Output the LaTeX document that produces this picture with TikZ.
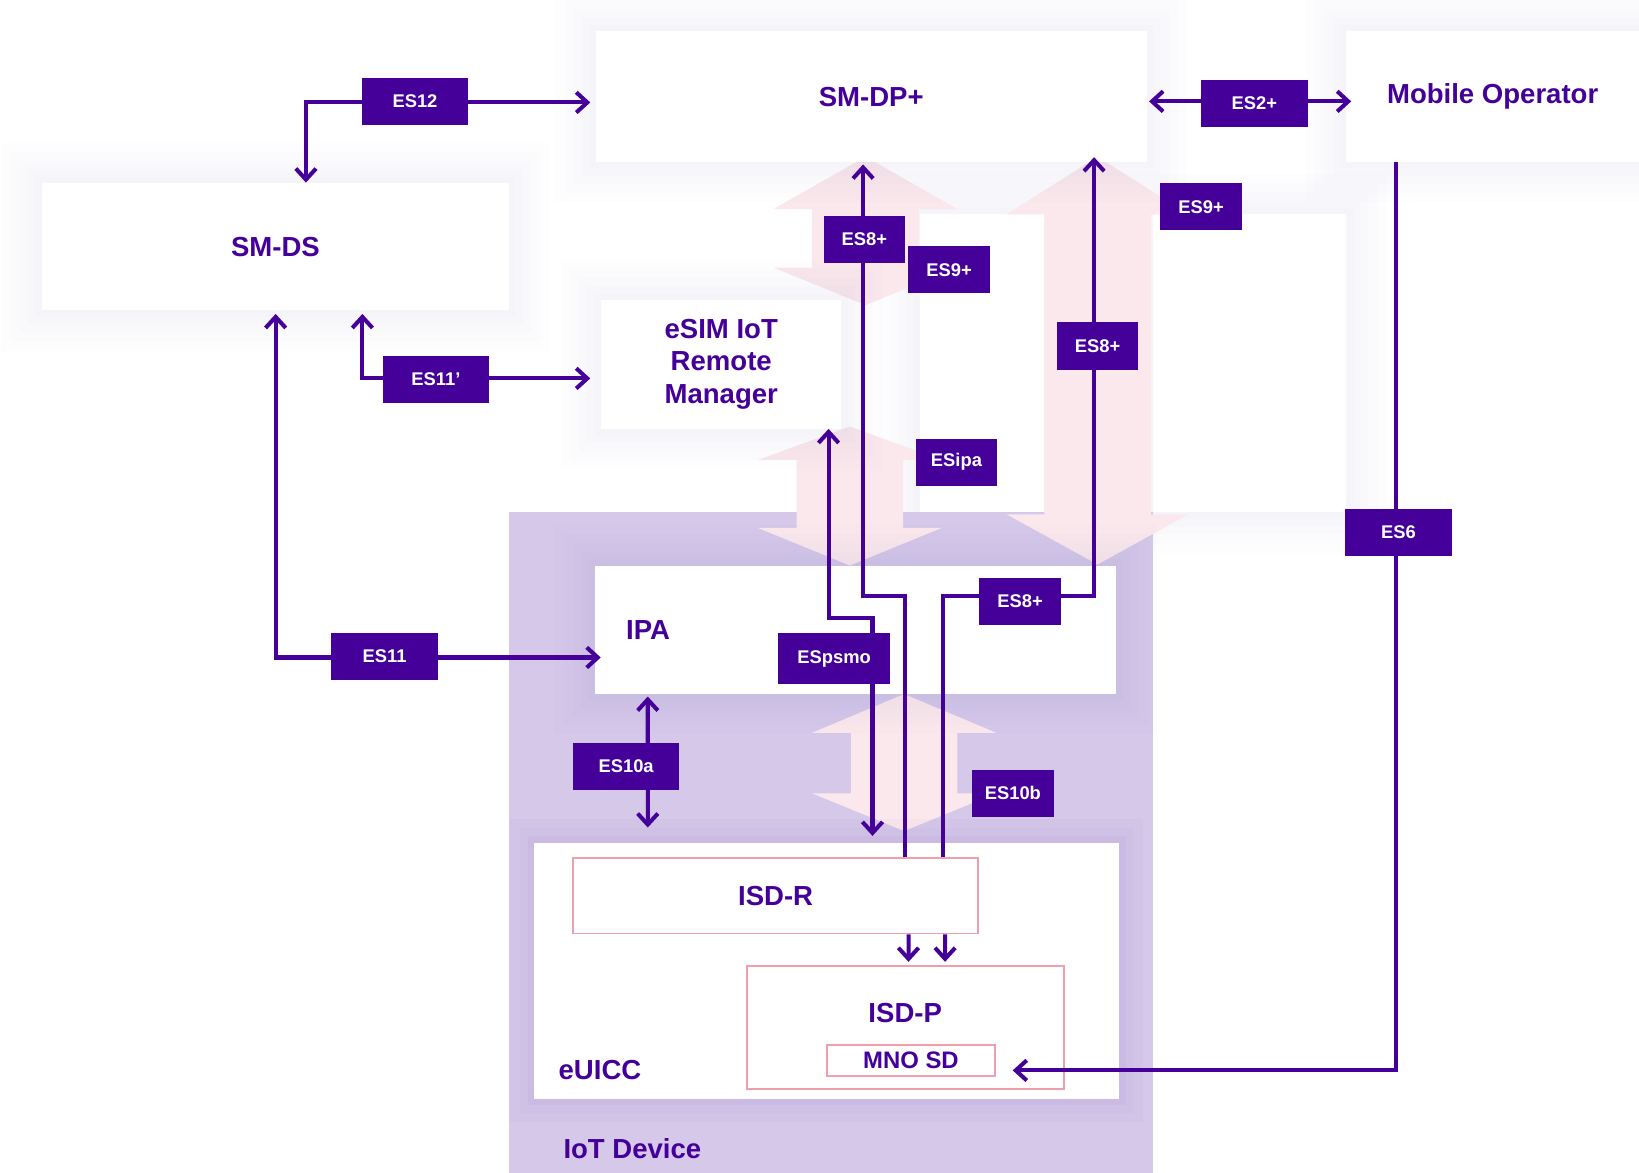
\documentclass[tikz,border=0pt]{standalone}
\usepackage{fontspec}
\setmainfont{Liberation Sans}
\usepackage{tikz}
\usetikzlibrary{arrows.meta, calc}
\definecolor{gsmaink}{RGB}{68,0,153}
\definecolor{iotlilac}{RGB}{213,200,233}
\definecolor{arrowpink}{RGB}{250,232,236}
\definecolor{sdpink}{RGB}{240,160,172}
\definecolor{halo}{RGB}{70,60,140}
\tikzset{
  softhalo/.style={
    preaction={draw=halo, draw opacity=0.008, line width=44pt},
    preaction={draw=halo, draw opacity=0.008, line width=34pt},
    preaction={draw=halo, draw opacity=0.008, line width=24pt},
    preaction={draw=halo, draw opacity=0.009, line width=15pt},
    preaction={draw=halo, draw opacity=0.010, line width=7pt}},
  entity/.style={rectangle, fill=white, inner sep=0pt, text=gsmaink, align=center,
    font=\fontsize{15}{17.6}\selectfont\bfseries, softhalo},
  ghost/.style={fill=white, softhalo},
  chipbox/.style={rectangle, fill=white, inner sep=0pt,
    preaction={draw=gsmaink, draw opacity=0.018, line width=26pt},
    preaction={draw=gsmaink, draw opacity=0.02, line width=16pt},
    preaction={draw=gsmaink, draw opacity=0.022, line width=7pt}},
  sdbox/.style={rectangle, fill=white, draw=sdpink, line width=1pt, inner sep=0pt,
    text=gsmaink, font=\fontsize{15}{17.6}\selectfont\bfseries},
  title/.style={text=gsmaink, font=\fontsize{15}{17.6}\selectfont\bfseries, inner sep=0pt},
  iface/.style={rectangle, fill=gsmaink, text=white, inner sep=0pt,
    font=\fontsize{10}{12}\selectfont\bfseries, minimum width=2.04cm, minimum height=0.9cm},
  ifacen/.style={iface, minimum width=1.56cm},
  flow/.style={draw=gsmaink, line width=2.2pt, -{Straight Barb[length=6pt, width=11pt]}},
  flow2/.style={flow, {Straight Barb[length=6pt, width=11pt]}-{Straight Barb[length=6pt, width=11pt]}},
  pinkarrow/.style={fill=arrowpink}
}

\begin{document}
\begin{tikzpicture}[x=0.02cm, y=-0.02cm]
  \useasboundingbox (0,0) rectangle (1568,1122);
  \fill[white] (0,0) rectangle (1568,1122);

  % empty panels behind the interface arrows
  \fill[ghost] (880,205) rectangle (999,490);
  \fill[ghost] (1103,205) rectangle (1288,490);

  % IoT Device area
  \fill[iotlilac] (487,490) rectangle (1103,1130);

  % Big pink interface arrows
  \fill[pinkarrow] (828,150) -- (916,200) -- (879,200) -- (879,256) -- (916,256) -- (828,292)
    -- (740,256) -- (777,256) -- (777,200) -- (740,200) -- cycle;
  \fill[pinkarrow] (813,408) -- (901,440) -- (864,440) -- (864,505) -- (901,505) -- (813,541)
    -- (725,505) -- (762,505) -- (762,440) -- (725,440) -- cycle;
  \fill[pinkarrow] (1050,150) -- (1137,205) -- (1101,205) -- (1101,492) -- (1137,492) -- (1050,540)
    -- (963,492) -- (999,492) -- (999,205) -- (963,205) -- cycle;
  \fill[pinkarrow] (865,664) -- (953,701) -- (916,701) -- (916,759) -- (953,759) -- (865,795)
    -- (777,759) -- (814,759) -- (814,701) -- (777,701) -- cycle;

  % Entities
  \node[entity, minimum width=10.54cm, minimum height=2.5cm] (smdp) at (833.5,92.5) {SM-DP+};
  \node[entity, minimum width=5.6cm, minimum height=2.5cm] (mobop) at (1428,92.5) {Mobile Operator};
  \node[entity, minimum width=8.94cm, minimum height=2.44cm] (smds) at (263.5,236) {SM-DS};
  \node[entity, minimum width=4.6cm, minimum height=2.46cm] (rm) at (690,348.5) {eSIM IoT\\Remote\\Manager};
  \node[entity, minimum width=9.98cm, minimum height=2.46cm, text width=9.98cm, align=left] (ipa) at (818.5,602.5) {\hspace*{0.6cm}IPA};

  % eUICC and security domains
  \node[chipbox, minimum width=11.2cm, minimum height=4.9cm] (euicc) at (791,928.5) {};
  \node[sdbox, minimum width=7.76cm, minimum height=1.44cm] (isdr) at (742,857) {ISD-R};
  \node[sdbox, minimum width=6.06cm, minimum height=2.36cm] (isdp) at (866.5,983) {};
  \node[title] (isdptxt) at (866,969) {ISD-P};
  \node[sdbox, minimum width=3.22cm, minimum height=0.58cm,
    font=\fontsize{13}{15}\selectfont\bfseries] (mnosd) at (871.5,1014.5) {MNO SD};
  \node[title] (euicctxt) at (574,1024) {eUICC};
  \node[title] (iottxt) at (605,1099) {IoT Device};

  % Interfaces
  \draw[flow2] (smds.north west) ++(253,0) |- ($(smdp.west)+(-5,5.5)$);
  \draw[flow2] ($(smdp.east)+(2,4.5)$) -- ($(mobop.west)+(5,4.5)$);
  \draw[flow2] ($(smds.south west)+(224,3)$) |- ($(ipa.west)+(6,26.5)$);
  \draw[flow2] ($(smds.south west)+(307,3)$) |- ($(rm.west)+(-10,13.5)$);
  \draw[flow] ($(isdr.north west)+(319,0)$) |- ($(smdp.south west)+(256,415)$) -- ($(smdp.south west)+(256,2)$);
  \draw[flow] ($(isdr.north west)+(355,0)$) |- ($(smdp.south west)+(477,415)$) -- ($(smdp.south west)+(477,-5)$);
  \draw[flow2] ($(rm.south west)+(218,0)$) -- ++(0,181) -| ($(euicc.north west)+(324,-6)$);
  \draw[flow2] ($(ipa.south west)+(51,2)$) -- ($(euicc.north west)+(109,-14)$);
  \draw[flow] ($(mobop.south west)+(48,0)$) |- ($(mnosd.east)+(16,9.5)$);
  \draw[flow] ($(isdr.south west)+(322,0)$) -- ($(isdp.north west)+(155,-3)$);
  \draw[flow] ($(isdr.south west)+(357,0)$) -- ($(isdp.north west)+(190,-3)$);

  % Interface labels
  \node[iface] (es12) at (397,97) {ES12};
  \node[iface] (es2) at (1200,99) {ES2+};
  \node[ifacen] (es9a) at (1149,198) {ES9+};
  \node[ifacen] (es8a) at (827,229) {ES8+};
  \node[ifacen] (es9b) at (908,258) {ES9+};
  \node[ifacen] (es8b) at (1050,331) {ES8+};
  \node[iface] (es11p) at (417,363) {ES11’};
  \node[ifacen] (esipa) at (915,442) {ESipa};
  \node[iface] (es6) at (1338,509) {ES6};
  \node[ifacen] (es8c) at (976,575) {ES8+};
  \node[iface] (es11) at (368,628) {ES11};
  \node[iface, minimum width=2.14cm, minimum height=0.96cm] (espsmo) at (798,630) {ESpsmo};
  \node[iface] (es10a) at (599,733) {ES10a};
  \node[ifacen] (es10b) at (969,759) {ES10b};
\end{tikzpicture}
\end{document}
